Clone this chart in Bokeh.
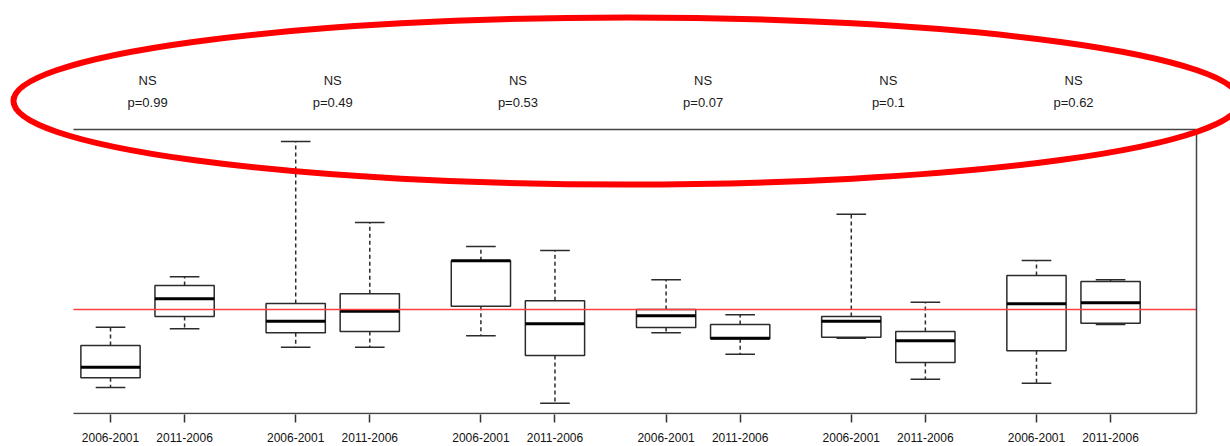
import numpy as np
from bokeh.plotting import figure
from bokeh.models import ColumnDataSource, Range1d, LinearAxis, FixedTicker
from bokeh.core.properties import value
from bokeh.embed import file_html
from bokeh.resources import INLINE

# ---- data ----
periods = ["2006-2001", "2011-2006"]
significance = ["NS", "NS", "NS", "NS", "NS", "NS"]
p_values = ["p=0.99", "p=0.49", "p=0.53", "p=0.07", "p=0.1", "p=0.62"]
positions = [1, 2, 3.5, 4.5, 6, 7, 8.5, 9.5, 11, 12, 13.5, 14.5]
tick_labels = periods * 6
whisker_high = [-1.77, 3.27, 16.8, 8.7, 6.3, 5.9, 2.97, -0.53, 9.53, 0.73, 4.9, 2.97]
q3 = [-3.6, 2.4, 0.6, 1.57, 4.87, 0.87, 0.0, -1.5, -0.7, -2.2, 3.4, 2.8]
median = [-5.77, 1.07, -1.17, -0.17, 4.87, -1.43, -0.63, -2.87, -1.17, -3.13, 0.57, 0.67]
q1 = [-6.83, -0.7, -2.33, -2.2, 0.33, -4.6, -1.8, -2.93, -2.77, -5.3, -4.13, -1.37]
whisker_low = [-7.8, -1.93, -3.77, -3.77, -2.63, -9.37, -2.33, -4.47, -2.87, -6.97, -7.37, -1.5]
reference_level = 0.0

# ---- layout constants (plot box limits, as in the original plot) ----
XLIM = (0.5, 15.66)
YLIM = (-10.4, 18.0)
BOX_HALF = 0.4
CAP_HALF = 0.2
FONT = "Liberation Sans"
LINE = "#2b2b2b"
FRAME = "#444444"

pos = np.array(positions, dtype=float)
src = ColumnDataSource(dict(
    x=pos, left=pos - BOX_HALF, right=pos + BOX_HALF,
    cl=pos - CAP_HALF, cr=pos + CAP_HALF,
    lo=whisker_low, q1=q1, med=median, q3=q3, hi=whisker_high,
))
group_centers = [(positions[2 * i] + positions[2 * i + 1]) / 2 for i in range(6)]

p = figure(width=1230, height=446,
           x_range=Range1d(-0.485, 16.119), y_range=Range1d(-10.5, 30.9),
           output_backend="svg", toolbar_location=None,
           x_axis_location=None, y_axis_location=None,
           min_border_left=0, min_border_right=0,
           min_border_top=0, min_border_bottom=32,
           outline_line_color=None,
           background_fill_color="white", border_fill_color="white")
for g in p.grid:
    g.visible = False

# whiskers (dashed)
p.segment(x0="x", x1="x", y0="q3", y1="hi", source=src, line_color=LINE,
          line_width=1.5, line_dash="4 3")
p.segment(x0="x", x1="x", y0="q1", y1="lo", source=src, line_color=LINE,
          line_width=1.5, line_dash="4 3")
# caps
p.segment(x0="cl", x1="cr", y0="hi", y1="hi", source=src, line_color=LINE, line_width=1.5)
p.segment(x0="cl", x1="cr", y0="lo", y1="lo", source=src, line_color=LINE, line_width=1.5)
# boxes
p.quad(left="left", right="right", bottom="q1", top="q3", source=src,
       fill_color="white", line_color=LINE, line_width=1.5)
# medians
p.segment(x0="left", x1="right", y0="med", y1="med", source=src,
          line_color="black", line_width=3)

# reference line
p.segment(x0=[XLIM[0]], x1=[XLIM[1]], y0=[reference_level], y1=[reference_level],
          line_color="#ff4040", line_width=1.4)

# plot box: top, right, bottom (no left side)
p.segment(x0=[XLIM[0], XLIM[1], XLIM[0]], x1=[XLIM[1], XLIM[1], XLIM[1]],
          y0=[YLIM[1], YLIM[0], YLIM[0]], y1=[YLIM[1], YLIM[1], YLIM[0]],
          line_color=FRAME, line_width=1.5)

# x axis: ticks and labels only
xaxis = LinearAxis(ticker=FixedTicker(ticks=positions),
                   major_label_overrides={float(v): l for v, l in zip(positions, tick_labels)},
                   major_tick_in=0, major_tick_out=8,
                   minor_tick_line_color=None,
                   axis_line_color=None,
                   major_tick_line_color="#333333", major_tick_line_width=1.5,
                   major_label_standoff=10,
                   major_label_text_font=FONT, major_label_text_font_size="12px",
                   major_label_text_color="#111111")
p.add_layout(xaxis, "below")

# significance annotations above the plot box
lab_src = ColumnDataSource(dict(x=group_centers, ns=significance, pv=p_values,
                                y_ns=[22.9] * 6, y_p=[20.7] * 6))
for col, ycol in (("ns", "y_ns"), ("pv", "y_p")):
    p.text(x="x", y=ycol, text=col, source=lab_src,
           text_align="center", text_baseline="middle",
           text_font=value(FONT), text_font_size=value("13px"),
           text_color="#1a1a1a")

# highlighting ellipse
p.ellipse(x=[7.97], y=[20.85], width=[16.56], height=[16.7],
          fill_color=None, line_color="#ff0000", line_width=6)

open("out.html", "w").write(file_html(p, INLINE))
